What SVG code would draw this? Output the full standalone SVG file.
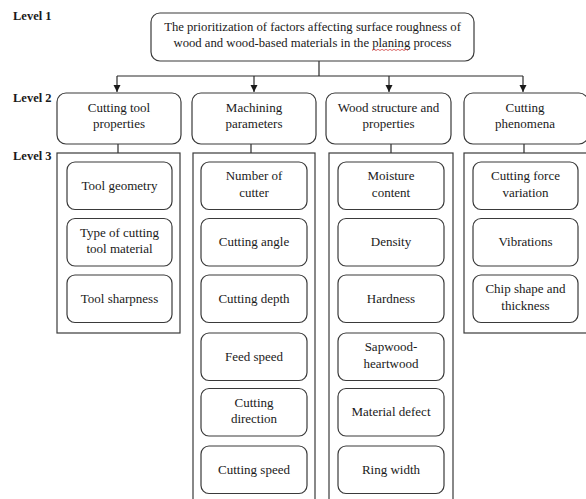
<svg xmlns="http://www.w3.org/2000/svg" width="586" height="499" viewBox="0 0 586 499">
<defs>
<style>
.bx{fill:#fff;stroke:#3a3a3a;stroke-width:1.2}
.ct{fill:none;stroke:#3a3a3a;stroke-width:1.2}
.ln{fill:none;stroke:#2a2a2a;stroke-width:1.2}
text{font-family:"Liberation Serif","Times New Roman",serif;font-size:13px;fill:#1a1a1a;text-anchor:middle}
.lv{font-weight:bold;text-anchor:start;font-size:12.5px}
.rt{font-size:12.7px}
</style>
<marker id="ah" markerWidth="8" markerHeight="8" refX="7" refY="4" orient="auto" markerUnits="userSpaceOnUse">
<path d="M0,0.5 L7,4 L0,7.5 Z" fill="#1a1a1a"/>
</marker>
</defs>
<rect width="586" height="499" fill="#fff"/>

<g id="levels">
<text class="lv" x="13" y="20">Level 1</text>
<text class="lv" x="13" y="101.5">Level 2</text>
<text class="lv" x="13" y="159.5">Level 3</text>
</g>

<g id="connectors">
<path class="ln" d="M319,61 V76 M117,76 H523"/>
<path class="ln" d="M117,76 V92" marker-end="url(#ah)"/>
<path class="ln" d="M254,76 V92" marker-end="url(#ah)"/>
<path class="ln" d="M389,76 V92" marker-end="url(#ah)"/>
<path class="ln" d="M523,76 V92" marker-end="url(#ah)"/>
<path class="ln" d="M118,144 V153 M251,144 V153 M391,144 V153 M524,144 V153"/>
</g>

<g id="root">
<rect class="bx" x="151" y="13" width="323" height="48" rx="9"/>
<text class="rt" x="312.5" y="31">The prioritization of factors affecting surface roughness of</text>
<text class="rt" x="312.5" y="47">wood and wood-based materials in the planing process</text>
<path d="M372,50.5 l2,-1.2 l2,1.2 l2,-1.2 l2,1.2 l2,-1.2 l2,1.2 l2,-1.2 l2,1.2 l2,-1.2 l2,1.2 l2,-1.2 l2,1.2 l2,-1.2 l2,1.2 l2,-1.2 l2,1.2 l2,-1.2 l2,1.2" fill="none" stroke="#d04040" stroke-width="0.8"/>
</g>

<g id="l2-tool">
<rect class="bx" x="57" y="93" width="124" height="51" rx="9"/>
<text x="119" y="112">Cutting tool</text>
<text x="119" y="128">properties</text>
</g>
<g id="l2-machining">
<rect class="bx" x="192" y="93" width="124" height="51" rx="9"/>
<text x="254" y="112">Machining</text>
<text x="254" y="128">parameters</text>
</g>
<g id="l2-wood">
<rect class="bx" x="326" y="93" width="125" height="51" rx="9"/>
<text x="388.5" y="112">Wood structure and</text>
<text x="388.5" y="128">properties</text>
</g>
<g id="l2-phenomena">
<rect class="bx" x="464" y="93" width="124" height="51" rx="9"/>
<text x="525" y="112">Cutting</text>
<text x="525" y="128">phenomena</text>
</g>

<g id="containers">
<rect class="ct" x="57" y="153" width="123" height="180"/>
<rect class="ct" x="193" y="153" width="122" height="360"/>
<rect class="ct" x="329" y="153" width="124" height="360"/>
<rect class="ct" x="464" y="153" width="130" height="180"/>
</g>

<g id="tool-geometry"><rect class="bx" x="67" y="162" width="105" height="47.5" rx="8"/><text x="119.5" y="189.5">Tool geometry</text></g>
<g id="tool-material"><rect class="bx" x="67" y="218.5" width="105" height="47.5" rx="8"/><text x="119.5" y="236.5">Type of cutting</text><text x="119.5" y="253">tool material</text></g>
<g id="tool-sharpness"><rect class="bx" x="67" y="275" width="105" height="47.5" rx="8"/><text x="119.5" y="302.5">Tool sharpness</text></g>

<g id="number-cutter"><rect class="bx" x="201" y="162" width="106" height="47.5" rx="8"/><text x="254" y="180">Number of</text><text x="254" y="196.5">cutter</text></g>
<g id="cutting-angle"><rect class="bx" x="201" y="218.5" width="106" height="47.5" rx="8"/><text x="254" y="246">Cutting angle</text></g>
<g id="cutting-depth"><rect class="bx" x="201" y="275" width="106" height="47.5" rx="8"/><text x="254" y="302.5">Cutting depth</text></g>
<g id="feed-speed"><rect class="bx" x="201" y="333" width="106" height="47.5" rx="8"/><text x="254" y="360.5">Feed speed</text></g>
<g id="cutting-direction"><rect class="bx" x="201" y="388.5" width="106" height="47.5" rx="8"/><text x="254" y="406.5">Cutting</text><text x="254" y="423">direction</text></g>
<g id="cutting-speed"><rect class="bx" x="201" y="446" width="106" height="47.5" rx="8"/><text x="254" y="473.5">Cutting speed</text></g>

<g id="moisture"><rect class="bx" x="338" y="162" width="106" height="47.5" rx="8"/><text x="391" y="180">Moisture</text><text x="391" y="196.5">content</text></g>
<g id="density"><rect class="bx" x="338" y="218.5" width="106" height="47.5" rx="8"/><text x="391" y="246">Density</text></g>
<g id="hardness"><rect class="bx" x="338" y="275" width="106" height="47.5" rx="8"/><text x="391" y="302.5">Hardness</text></g>
<g id="sapwood"><rect class="bx" x="338" y="333" width="106" height="47.5" rx="8"/><text x="391" y="351">Sapwood-</text><text x="391" y="367.5">heartwood</text></g>
<g id="defect"><rect class="bx" x="338" y="388.5" width="106" height="47.5" rx="8"/><text x="391" y="416">Material defect</text></g>
<g id="ring-width"><rect class="bx" x="338" y="446" width="106" height="47.5" rx="8"/><text x="391" y="473.5">Ring width</text></g>

<g id="force-variation"><rect class="bx" x="473" y="162" width="105" height="47.5" rx="8"/><text x="525.5" y="180">Cutting force</text><text x="525.5" y="196.5">variation</text></g>
<g id="vibrations"><rect class="bx" x="473" y="218.5" width="105" height="47.5" rx="8"/><text x="525.5" y="246">Vibrations</text></g>
<g id="chip-shape"><rect class="bx" x="473" y="275" width="105" height="47.5" rx="8"/><text x="525.5" y="293">Chip shape and</text><text x="525.5" y="309.5">thickness</text></g>
</svg>
